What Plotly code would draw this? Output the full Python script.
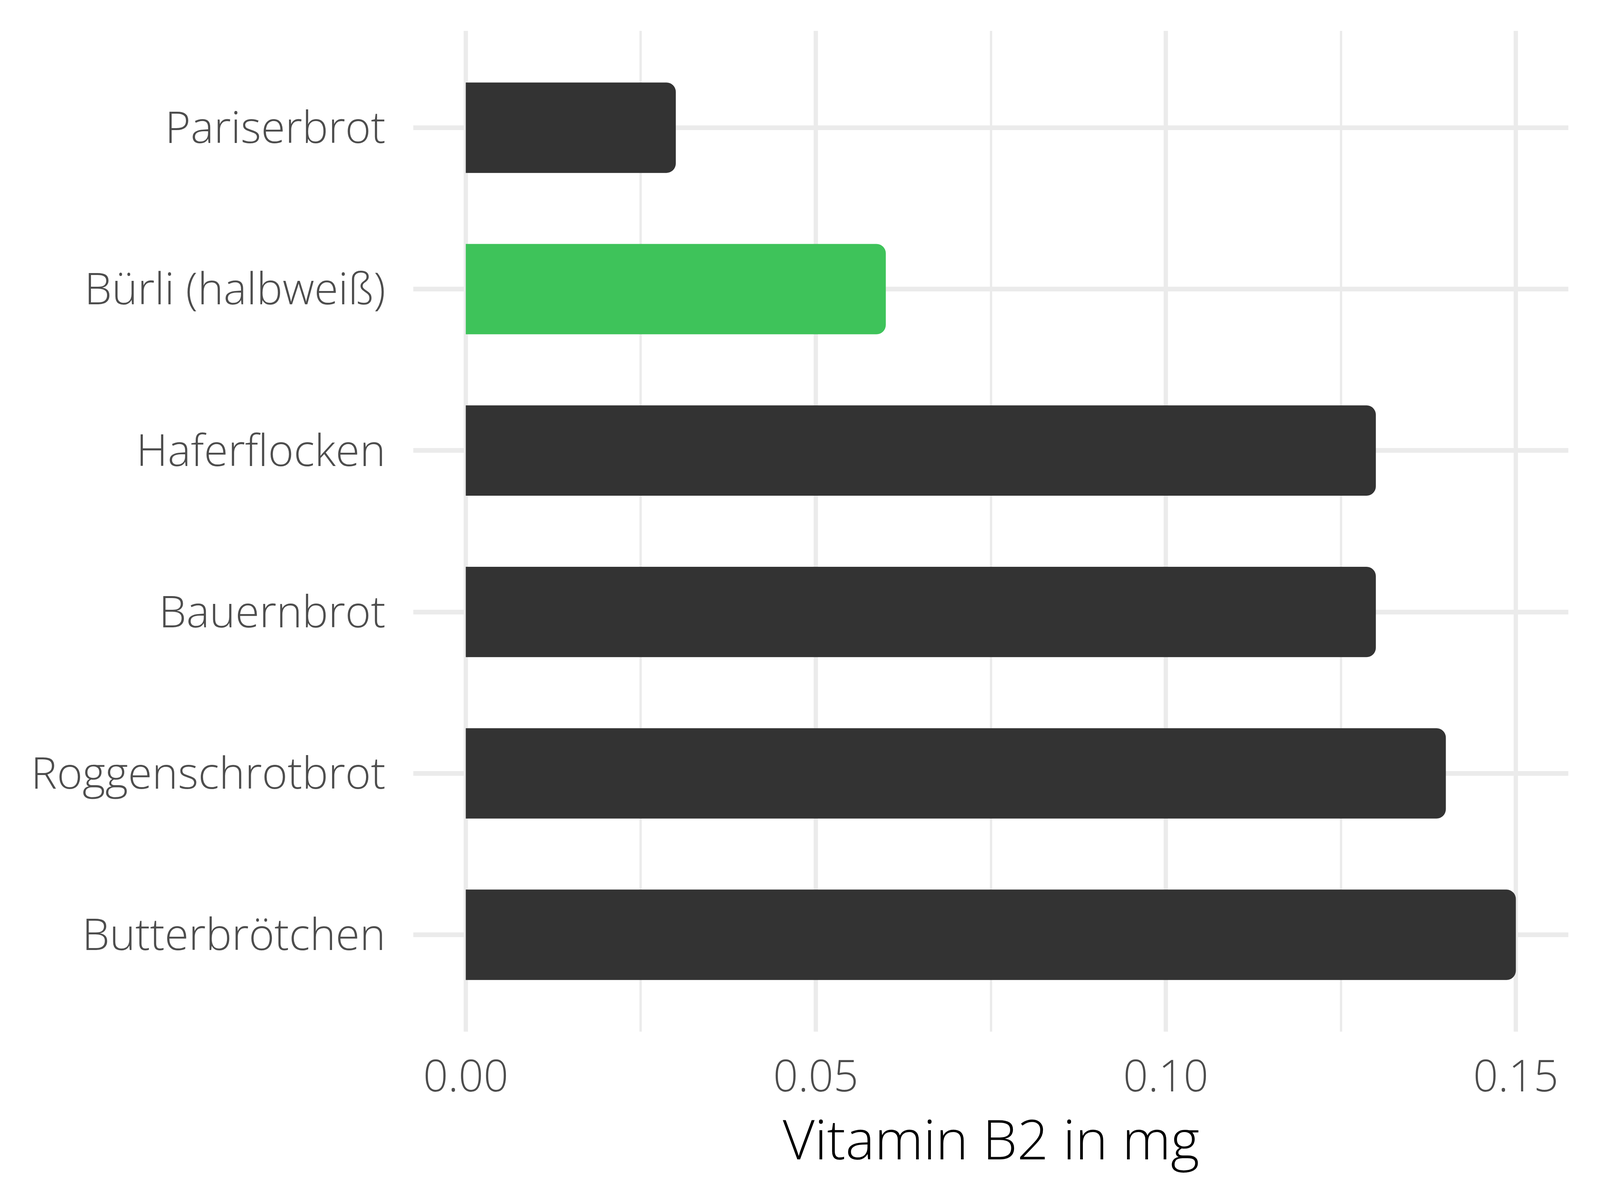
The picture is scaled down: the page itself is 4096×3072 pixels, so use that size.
import plotly.graph_objects as go

categories = ["Pariserbrot", "Bürli (halbweiß)", "Haferflocken", "Bauernbrot", "Roggenschrotbrot", "Butterbrötchen"]
values = [0.03, 0.06, 0.13, 0.13, 0.14, 0.15]
colors = ["#333333", "#3ec35a", "#333333", "#333333", "#333333", "#333333"]
x_ticks = [0.0, 0.05, 0.10, 0.15]
x_ticklabels = ["0.00", "0.05", "0.10", "0.15"]
x_title = "Vitamin B2 in mg"

W, H = 4096, 3072
FONT = "Open Sans"

fig = go.Figure(go.Bar(
    x=values, y=categories, orientation="h",
    marker=dict(color=colors, line=dict(width=0), cornerradius=24),
    width=0.56,
))

fig.update_layout(
    width=W, height=H,
    paper_bgcolor="white", plot_bgcolor="white",
    margin=dict(l=1050, r=89, t=71, b=439, autoexpand=False),
    showlegend=False,
    font=dict(family=FONT, weight=300, color="#4d4d4d"),
    annotations=[dict(
        text=x_title, xref="paper", yref="paper", x=0.5, y=-0.1062,
        xanchor="center", yanchor="middle", showarrow=False,
        font=dict(size=141, family=FONT, weight=300, color="#000000"),
    )],
)

fig.update_xaxes(
    range=[-0.0075, 0.1575],
    tickvals=x_ticks, ticktext=x_ticklabels,
    tickfont=dict(size=112, family=FONT, weight=300, color="#4d4d4d"),
    showgrid=True, gridcolor="#ebebeb", gridwidth=11,
    minor=dict(dtick=0.025, tick0=0, showgrid=True, gridcolor="#ebebeb", gridwidth=6),
    zeroline=False, showline=False, ticks="",
    ticklabelstandoff=40,
)

fig.update_yaxes(
    type="category",
    categoryorder="array", categoryarray=categories,
    range=[5.6, -0.6],
    tickfont=dict(size=112, family=FONT, weight=300, color="#4d4d4d"),
    showgrid=True, gridcolor="#ebebeb", gridwidth=12,
    zeroline=False, showline=False, ticks="",
    ticklabelstandoff=70,
)

fig.write_html("out.html")
